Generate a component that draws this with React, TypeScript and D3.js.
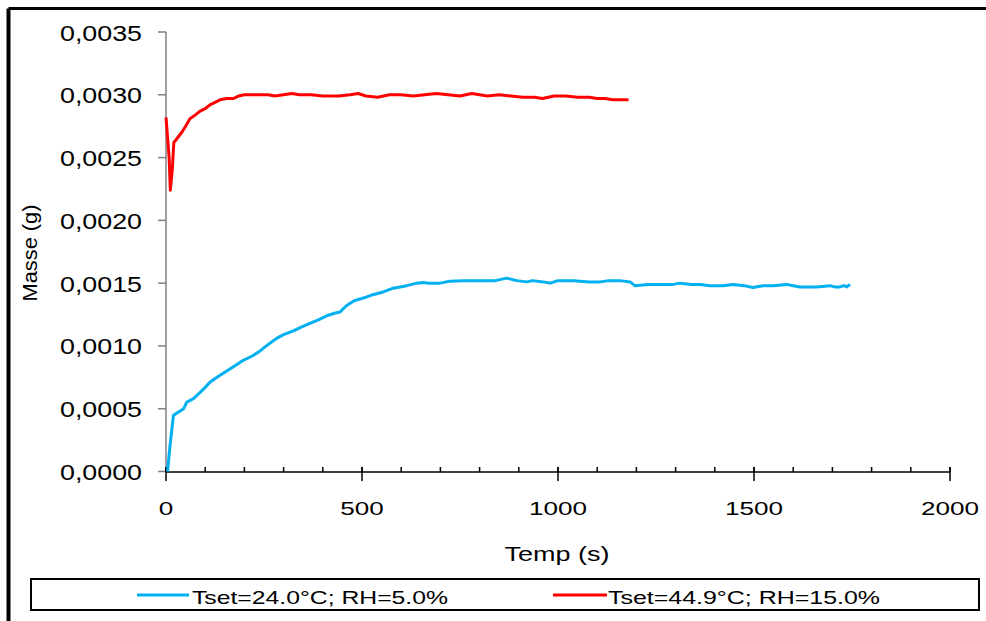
import React from "react";
import * as d3 from "d3";

const blueT = [4, 10, 19, 30, 45, 53, 70, 87, 100, 112, 130, 155, 175, 197, 220, 240, 260, 282, 300, 325, 345, 367, 390, 410, 430, 444, 460, 480, 512, 530, 554, 580, 614, 640, 656, 670, 699, 724, 760, 809, 840, 869, 895, 920, 935, 962, 980, 1000, 1040, 1080, 1107, 1130, 1158, 1184, 1196, 1230, 1260, 1294, 1311, 1340, 1362, 1388, 1420, 1447, 1475, 1497, 1523, 1550, 1583, 1600, 1617, 1660, 1694, 1705, 1719, 1730, 1737, 1745];
const blueV = [0.0, 0.0002, 0.000447, 0.00047, 0.0005, 0.000553, 0.00058, 0.00063, 0.00067, 0.00071, 0.00075, 0.0008, 0.00084, 0.000885, 0.00092, 0.00096, 0.00101, 0.00106, 0.00109, 0.00112, 0.00115, 0.00118, 0.00121, 0.00124, 0.00126, 0.00127, 0.00132, 0.00136, 0.00139, 0.00141, 0.00143, 0.00146, 0.00148, 0.0015, 0.001505, 0.0015, 0.0015, 0.001515, 0.00152, 0.00152, 0.00152, 0.00154, 0.00152, 0.00151, 0.00152, 0.00151, 0.0015, 0.00152, 0.00152, 0.00151, 0.00151, 0.00152, 0.00152, 0.00151, 0.00148, 0.00149, 0.00149, 0.00149, 0.0015, 0.00149, 0.00149, 0.00148, 0.00148, 0.00149, 0.00148, 0.001465, 0.00148, 0.00148, 0.00149, 0.00148, 0.00147, 0.00147, 0.00148, 0.00147, 0.00147, 0.00148, 0.00147, 0.00149];

const redT = [0, 8, 11, 16, 20, 30, 40, 50, 61, 75, 87, 100, 112, 125, 138, 155, 171, 185, 200, 230, 260, 278, 300, 321, 340, 370, 400, 440, 470, 490, 510, 540, 570, 600, 630, 660, 690, 720, 750, 780, 800, 820, 850, 880, 910, 940, 960, 990, 1020, 1050, 1080, 1100, 1120, 1140, 1160, 1180];
const redV = [0.00282, 0.0025, 0.00224, 0.0024, 0.00262, 0.00266, 0.0027, 0.00275, 0.00281, 0.00284, 0.00287, 0.00289, 0.00292, 0.00294, 0.00296, 0.00297, 0.00297, 0.00299, 0.003, 0.003, 0.003, 0.00299, 0.003, 0.00301, 0.003, 0.003, 0.00299, 0.00299, 0.003, 0.00301, 0.00299, 0.00298, 0.003, 0.003, 0.00299, 0.003, 0.00301, 0.003, 0.00299, 0.00301, 0.003, 0.00299, 0.003, 0.00299, 0.00298, 0.00298, 0.00297, 0.00299, 0.00299, 0.00298, 0.00298, 0.00297, 0.00297, 0.00296, 0.00296, 0.00296];

const yTicks = [0, 0.0005, 0.001, 0.0015, 0.002, 0.0025, 0.003, 0.0035];
const yTickLabels = ["0,0000", "0,0005", "0,0010", "0,0015", "0,0020", "0,0025", "0,0030", "0,0035"];
const xTicks = [0, 500, 1000, 1500, 2000];
const xMinor = d3.range(0, 2001, 100);

const seriesNames = ["Tset=24.0°C; RH=5.0%", "Tset=44.9°C; RH=15.0%"];
const seriesColors = ["#00B0F0", "#FF0000"];

const FONT = "'Liberation Sans', Arial, sans-serif";

export default function App() {
  const x = d3.scaleLinear().domain([0, 2000]).range([166, 950]);
  const y = d3.scaleLinear().domain([0, 0.0035]).range([471.5, 32]);
  const line = d3
    .line<[number, number]>()
    .x((d) => x(d[0]))
    .y((d) => y(d[1]));
  const blue = blueT.map((t, i) => [t, blueV[i]] as [number, number]);
  const red = redT.map((t, i) => [t, redV[i]] as [number, number]);

  return (
    <svg
      width={986}
      height={621}
      style={{ position: "absolute", left: 0, top: 0, background: "#fff", fontFamily: FONT }}
    >
      <rect x={0} y={0} width={986} height={621} fill="#fff" />
      {/* outer frame */}
      <line x1={8.5} y1={8.5} x2={986} y2={8.5} stroke="#000" strokeWidth={3} />
      <line x1={8.5} y1={8.5} x2={8.5} y2={621} stroke="#000" strokeWidth={4} />

      {/* y axis */}
      <line x1={166} y1={y(0.0035)} x2={166} y2={y(0)} stroke="#808080" strokeWidth={1.5} />
      {yTicks.map((v, i) => (
        <g key={"yt" + i}>
          <line x1={158} y1={y(v)} x2={166} y2={y(v)} stroke="#808080" strokeWidth={1.5} />
          <text
            x={142}
            y={y(v) + 8.5}
            fontSize={21.5}
            textAnchor="end"
            textLength={82}
            lengthAdjust="spacingAndGlyphs"
            fill="#000"
          >
            {yTickLabels[i]}
          </text>
        </g>
      ))}

      {/* x axis */}
      <line x1={166} y1={472} x2={950} y2={472} stroke="#000" strokeWidth={1.5} />
      {xMinor.map((v) => (
        <line key={"xm" + v} x1={x(v)} y1={467} x2={x(v)} y2={472} stroke="#000" strokeWidth={1.5} />
      ))}
      {xTicks.map((v) => (
        <g key={"xt" + v}>
          <line x1={x(v)} y1={467} x2={x(v)} y2={481} stroke="#000" strokeWidth={1.5} />
          <text
            x={x(v)}
            y={515}
            fontSize={19}
            textAnchor="middle"
            textLength={String(v).length * 14.5}
            lengthAdjust="spacingAndGlyphs"
            fill="#000"
          >
            {String(v)}
          </text>
        </g>
      ))}

      {/* axis titles */}
      <text
        x={557}
        y={561}
        fontSize={19.5}
        textAnchor="middle"
        textLength={105}
        lengthAdjust="spacingAndGlyphs"
        fill="#000"
      >
        Temp (s)
      </text>
      <text
        transform="translate(37,253) rotate(-90)"
        fontSize={21}
        textAnchor="middle"
        textLength={97}
        lengthAdjust="spacingAndGlyphs"
        fill="#000"
      >
        Masse (g)
      </text>

      {/* series */}
      <path d={line(blue) || ""} fill="none" stroke={seriesColors[0]} strokeWidth={3} strokeLinejoin="round" />
      <path d={line(red) || ""} fill="none" stroke={seriesColors[1]} strokeWidth={3} strokeLinejoin="round" />

      {/* legend */}
      <rect x={31} y={579} width={948} height={31} fill="#fff" stroke="#000" strokeWidth={2} />
      <line x1={137} y1={595} x2={189} y2={595} stroke={seriesColors[0]} strokeWidth={3} />
      <text x={192} y={603.5} fontSize={19} textLength={256} lengthAdjust="spacingAndGlyphs" fill="#000">
        {seriesNames[0]}
      </text>
      <line x1={553} y1={595} x2={607} y2={595} stroke={seriesColors[1]} strokeWidth={3} />
      <text x={608} y={603.5} fontSize={19} textLength={272} lengthAdjust="spacingAndGlyphs" fill="#000">
        {seriesNames[1]}
      </text>
    </svg>
  );
}
